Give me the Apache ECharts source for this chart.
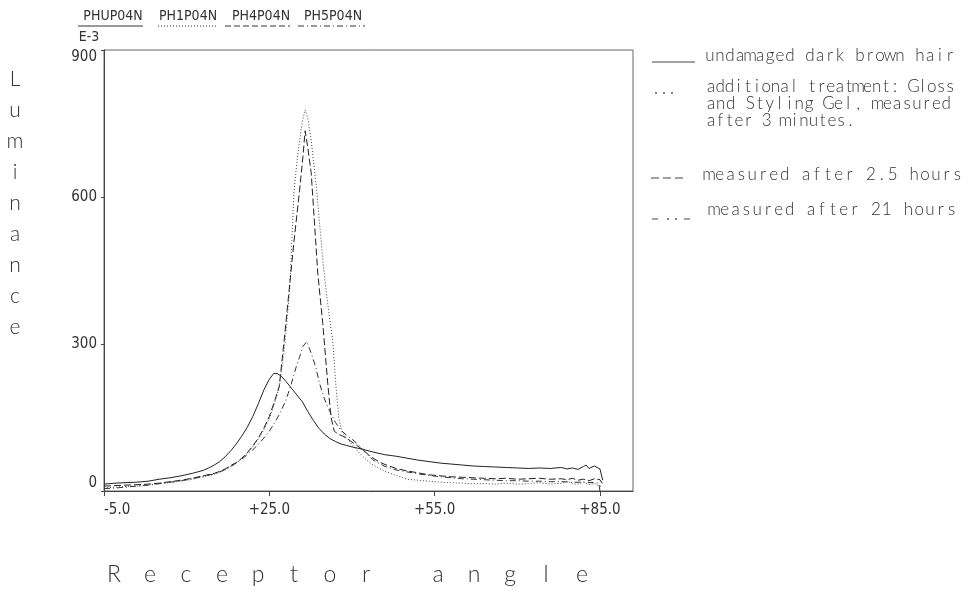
<!DOCTYPE html>
<html><head><meta charset="utf-8">
<script src="https://cdn.jsdelivr.net/npm/echarts@6/dist/echarts.min.js"></script>
<style>html,body{margin:0;padding:0;background:#fff}#c{width:974px;height:592px}</style>
</head><body><div id="c"></div>
<script>
// ---------- data ----------
const headerLabels = ['PHUP04N', 'PH1P04N', 'PH4P04N', 'PH5P04N'];
const scaleNote = 'E-3';
const yTitle = 'Luminance';
const xTitle = 'Receptor angle';
const xTicks = [-5, 25, 55, 85];
const yTicks = [0, 300, 600, 900];
const legendTexts = [
  ['undamaged dark brown hair'],
  ['additional treatment: Gloss', 'and Styling Gel, measured', 'after 3 minutes.'],
  ['measured after 2.5 hours'],
  ['measured after 21 hours']
];

// [receptor angle, luminance (E-3)]
const undamaged = [[-5,14],[-3,16],[-1,17],[1,18],[3,20],[5,24],[7,27],[9,31],[11,36],[13,42],[14,47],[15,53],[16,60],[17,70],[18,82],[19,96],[20,112],[21,130],[22,152],[23,178],[24,206],[25,228],[25.8,240],[26.4,240],[27.2,234],[28,224],[29,210],[30,196],[31,182],[32,162],[33,144],[34,128],[35,116],[36,107],[37,101],[38,96],[39,93],[40,90],[42,85],[44,79],[46,74],[48,71],[50,67],[52,63],[54,60],[56,57],[58,55],[60,53],[62,51],[64,50],[66,49],[68,48],[70,47],[72,46],[74,47],[76,46],[78,48],[79,45],[80,47],[81,44],[82,50],[82.5,53],[83,46],[84,51],[85,45],[85.5,22]];
const gel3min = [[-5,6],[-3,8],[-1,9],[1,10],[3,12],[5,15],[7,17],[9,20],[11,24],[13,29],[15,34],[16,38],[17,43],[18,50],[19,57],[20,66],[21,77],[22,90],[23,106],[24,125],[25,148],[26,180],[26.8,213],[27.4,260],[27.9,308],[28.3,360],[28.7,410],[29.1,512],[29.5,614],[30,670],[30.5,716],[31,755],[31.5,778],[32,760],[32.6,716],[33.1,665],[33.6,614],[34,560],[34.4,512],[34.8,460],[35.3,410],[35.9,355],[36.5,308],[37.1,213],[37.6,150],[38.2,120],[39,108],[40,95],[41,82],[42,70],[43,60],[44,52],[46,40],[48,32],[50,24],[52,22],[54,20],[56,18],[58,17],[60,16],[62,15],[64,15],[66,14],[68,16],[70,14],[72,15],[74,17],[76,14],[78,16],[79,20],[80,15],[81,14],[82,18],[83,13],[84,15],[85,10],[85.5,8]];
const after2h5 = [[-5,10],[-3,11],[-1,12],[1,13],[3,14],[5,16],[7,19],[9,22],[11,26],[13,31],[15,36],[16,40],[17,45],[18,52],[19,58],[20,67],[21,78],[22,92],[23,108],[24,128],[25,152],[26,185],[26.8,213],[27.7,308],[28.6,410],[29.5,512],[30.5,614],[31.1,682],[31.5,735],[32,700],[32.6,649],[33.2,547],[33.8,444],[34.7,342],[35.6,220],[36.2,150],[36.8,122],[37.5,116],[38.3,112],[39,108],[40,100],[41,92],[42,84],[43,74],[44,66],[45,59],[46,54],[48,46],[50,41],[52,37],[54,33],[56,31],[58,29],[60,28],[62,27],[64,26],[66,25],[68,26],[70,24],[72,25],[74,26],[76,24],[78,25],[79,23],[80,26],[81,22],[82,24],[83,21],[84,25],[85,23],[85.5,14]];
const after21h = [[-5,5],[-3,6],[-1,8],[1,10],[3,12],[5,15],[7,18],[9,21],[11,25],[13,30],[15,35],[16,39],[17,44],[18,50],[19,57],[20,65],[21,74],[22,84],[23,95],[24,108],[25,122],[26,140],[27,160],[28,185],[28.9,215],[29.9,254],[30.5,274],[31.1,295],[31.8,305],[32.6,281],[33.4,254],[34.1,220],[35,188],[36,162],[37,140],[38,124],[39,114],[40,106],[41,96],[42,84],[43,72],[44,62],[46,50],[48,43],[50,39],[52,35],[54,32],[56,29],[58,27],[60,25],[62,24],[64,23],[66,22],[68,21],[70,21],[72,20],[74,20],[76,19],[78,19],[80,18],[82,18],[84,17],[84.8,16],[85,0]];

// ---------- chart ----------
const TICKFONT = "'Liberation Sans Narrow','DejaVu Sans Condensed','Roboto Condensed',sans-serif";
const TEXTFONT = "Lato,'Open Sans','DejaVu Sans',sans-serif";
const INK = '#333';

function spacedText(str, x0, yMid, pitch, size, color) {
  const out = [];
  for (let i = 0; i < str.length; i++) {
    if (str[i] === ' ') continue;
    out.push({type: 'text', x: x0 + i * pitch, y: yMid, silent: true,
      style: {text: str[i], fill: color, font: `300 ${size}px ${TEXTFONT}`, align: 'center', verticalAlign: 'middle'}});
  }
  return out;
}

const graphic = [];
// header labels with line-style samples
const headerX = [113, 188, 261, 333];
const headerLineX = [[78, 143], [158, 218], [225, 290], [298, 365]];
const dashStyles = [null, [1, 2], [6, 3], [6, 3, 1, 3]];
headerLabels.forEach((t, i) => {
  graphic.push({type: 'text', x: headerX[i], y: 16, silent: true,
    style: {text: t, fill: INK, font: `14px ${TICKFONT}`, align: 'center', verticalAlign: 'middle'}});
  graphic.push({type: 'line', silent: true,
    shape: {x1: headerLineX[i][0], y1: 26, x2: headerLineX[i][1], y2: 26},
    style: {stroke: '#333', lineWidth: 1, lineDash: dashStyles[i]}});
});
graphic.push({type: 'text', x: 89, y: 37, silent: true,
  style: {text: scaleNote, fill: INK, font: `14px ${TICKFONT}`, align: 'center', verticalAlign: 'middle'}});

// right-hand legend
const legendBase = [[62], [93, 110, 127], [181], [216]];
const legendX = [[710], [711, 711, 711], [709], [714]];
const legendPitch = [[10.0], [9.2, 9.8, 9.3], [10.8], [10.8]];
legendTexts.forEach((lines, i) => {
  lines.forEach((ln, j) => {
    graphic.push(...spacedText(ln, legendX[i][j], legendBase[i][j] - 6, legendPitch[i][j], 17, INK));
  });
});
graphic.push({type: 'line', silent: true, shape: {x1: 652, y1: 62, x2: 695, y2: 62}, style: {stroke: '#444', lineWidth: 1}});
[656, 664, 672].forEach(x => graphic.push({type: 'circle', silent: true, shape: {cx: x, cy: 93, r: 0.9}, style: {fill: '#444'}}));
graphic.push({type: 'line', silent: true, shape: {x1: 651, y1: 178, x2: 684, y2: 178}, style: {stroke: '#444', lineWidth: 1, lineDash: [8, 4]}});
graphic.push({type: 'line', silent: true, shape: {x1: 652, y1: 219, x2: 658, y2: 219}, style: {stroke: '#444', lineWidth: 1}});
[668, 676].forEach(x => graphic.push({type: 'circle', silent: true, shape: {cx: x, cy: 219, r: 0.9}, style: {fill: '#444'}}));
graphic.push({type: 'line', silent: true, shape: {x1: 684, y1: 219, x2: 690, y2: 219}, style: {stroke: '#444', lineWidth: 1}});

// axis titles (plotter-style spaced letters)
for (let i = 0; i < yTitle.length; i++) {
  graphic.push({type: 'text', x: 15, y: 79 + i * 31, silent: true,
    style: {text: yTitle[i], fill: INK, font: `300 21px ${TEXTFONT}`, align: 'center', verticalAlign: 'middle'}});
}
graphic.push(...spacedText(xTitle, 114, 575, 36, 23, INK));

const chart = echarts.init(document.getElementById('c'), null, {renderer: 'canvas'});
chart.setOption({
  animation: false,
  backgroundColor: '#fff',
  grid: {left: 104, right: 341, top: 50, bottom: 101, show: true, borderColor: '#666', borderWidth: 1, backgroundColor: 'transparent'},
  xAxis: {
    type: 'value', min: -5, max: 91,
    axisLine: {show: true, onZero: false, lineStyle: {color: '#444', width: 1}},
    axisTick: {show: true, length: 5, customValues: xTicks, lineStyle: {color: '#444'}},
    axisLabel: {customValues: xTicks, margin: 12, color: INK, fontFamily: TICKFONT, fontSize: 15,
      alignMinLabel: 'left',
      formatter: v => (v > 0 ? '+' : '') + Number(v).toFixed(1)},
    splitLine: {show: false}
  },
  yAxis: {
    type: 'value', min: 0, max: 900, interval: 300,
    axisLine: {show: true, onZero: false, lineStyle: {color: '#444', width: 1}},
    axisTick: {show: true, length: 3, lineStyle: {color: '#444'}},
    axisLabel: {margin: 7, color: INK, fontFamily: TICKFONT, fontSize: 15,
      verticalAlignMinLabel: 'bottom', verticalAlignMaxLabel: 'top'},
    splitLine: {show: false}
  },
  graphic: graphic,
  series: [
    {name: 'PHUP04N', type: 'line', data: undamaged, showSymbol: false, silent: true,
      lineStyle: {color: '#222', width: 1}},
    {name: 'PH1P04N', type: 'line', data: gel3min, showSymbol: false, silent: true,
      lineStyle: {color: '#444', width: 1, type: [1, 2]}},
    {name: 'PH4P04N', type: 'line', data: after2h5, showSymbol: false, silent: true,
      lineStyle: {color: '#222', width: 1, type: [7, 3]}},
    {name: 'PH5P04N', type: 'line', data: after21h, showSymbol: false, silent: true,
      lineStyle: {color: '#333', width: 1, type: [6, 3, 1, 3]}}
  ]
});
</script>
</body></html>
